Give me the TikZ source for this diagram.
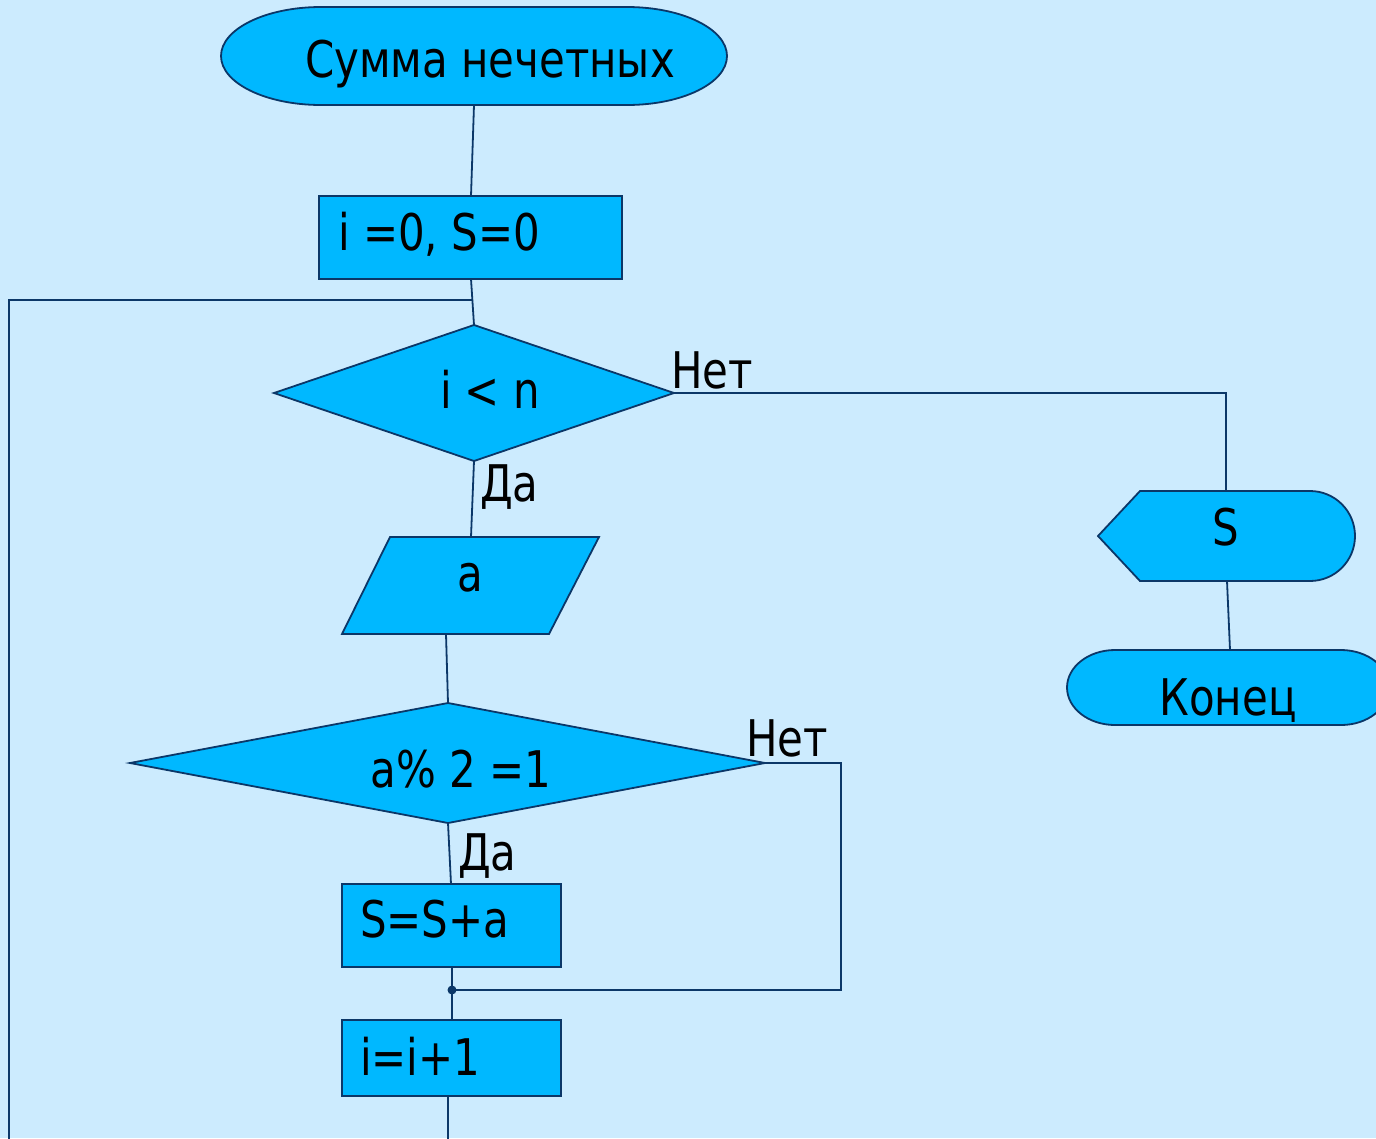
\documentclass[tikz,border=0pt]{standalone}
\usepackage{fontspec}
\setmainfont{DejaVu Sans}[FakeStretch=0.83]
\definecolor{bg}{HTML}{CCEBFE}
\definecolor{fl}{HTML}{00B8FF}
\definecolor{st}{HTML}{0B3768}
\begin{document}
\begin{tikzpicture}[x=1pt,y=1pt,
  shp/.style={fill=fl,draw=st,line width=1.8pt,line join=miter},
  ln/.style={draw=st,line width=1.8pt},
  txt/.style={inner sep=0pt,font=\fontsize{50.5}{60}\selectfont,text=black}]
\clip (0,0) rectangle (1376,-1138);
\fill[bg] (0,0) rectangle (1376,-1138);
% shapes
\draw[shp] (321,-7) -- (627,-7) arc[start angle=90,end angle=-90,x radius=100,y radius=49]
  -- (321,-105) arc[start angle=270,end angle=90,x radius=100,y radius=49] -- cycle;
\draw[shp] (319,-196) rectangle (622,-279);
\draw[shp] (274,-393) -- (474,-325) -- (674,-393) -- (474,-461) -- cycle;
\draw[shp] (390,-537) -- (599,-537) -- (549,-634) -- (342,-634) -- cycle;
\draw[shp] (130,-763) -- (448,-703) -- (765,-763) -- (448,-823) -- cycle;
\draw[shp] (342,-884) rectangle (561,-967);
\draw[shp] (342,-1020) rectangle (561,-1096);
\draw[shp] (1098,-536) -- (1140,-491) -- (1310,-491) arc[start angle=90,end angle=-90,radius=45]
  -- (1140,-581) -- cycle;
\draw[shp] (1115,-650) -- (1341,-650) arc[start angle=90,end angle=-90,x radius=48,y radius=37.5]
  -- (1115,-725) arc[start angle=270,end angle=90,x radius=48,y radius=37.5] -- cycle;
% texts
\node[txt,anchor=base] (start) at (490,-77) {Сумма нечетных};
\node[txt,anchor=base west] (init) at (338,-250) {i =0, S=0};
\node[txt,anchor=base] (cond1) at (490,-408) {i < n};
\node[txt,anchor=base] (inp) at (470,-591) {a};
\node[txt,anchor=base] (cond2) at (461,-787) {a\% 2 =1};
\node[txt,anchor=base west] (add) at (360,-937) {S=S+a};
\node[txt,anchor=base west] (inc) at (360,-1075) {i=i+1};
\node[txt,anchor=base] (out) at (1226,-545) {S};
\node[txt,anchor=base] (fin) at (1228,-715) {Конец};
\node[txt,anchor=base west] (no1) at (671,-388) {Нет};
\node[txt,anchor=base west] (yes1) at (480,-501) {Да};
\node[txt,anchor=base west] (no2) at (746,-756) {Нет};
\node[txt,anchor=base west] (yes2) at (458,-870) {Да};
% connection points
\coordinate (startS) at (474,-105);
\coordinate (initN) at (471,-196);
\coordinate (initS) at (471,-279);
\coordinate (loopJ) at (472.4,-300);
\coordinate (d1N) at (474,-325);
\coordinate (d1E) at (674,-393);
\coordinate (d1S) at (474,-461);
\coordinate (ioN) at (471,-537);
\coordinate (ioS) at (446,-634);
\coordinate (d2N) at (448,-703);
\coordinate (d2E) at (765,-763);
\coordinate (d2S) at (448,-823);
\coordinate (addN) at (451,-884);
\coordinate (addS) at (452,-967);
\coordinate (jdot) at (452,-990);
\coordinate (incN) at (452,-1020);
\coordinate (incS) at (448,-1096);
\coordinate (bot) at (448,-1140);
\coordinate (leftB) at (9,-1140);
\coordinate (outN) at (1226,-491);
\coordinate (outS) at (1227,-581);
\coordinate (finN) at (1230,-650);
% connectors
\draw[ln] (startS) -- (initN);
\draw[ln] (initS) -- (d1N);
\draw[ln] (d1S) -- (ioN);
\draw[ln] (ioS) -- (d2N);
\draw[ln] (d2S) -- (addN);
\draw[ln] (addS) -- (jdot) -- (incN);
\draw[ln] (incS) -- (bot);
\draw[ln] (leftB) |- (loopJ);
\draw[ln] (d2E) -- ++(76,0) |- (jdot);
\draw[ln] (d1E) -| (outN);
\draw[ln] (outS) -- (finN);
\fill[st] (jdot) circle[radius=4.5];
\end{tikzpicture}
\end{document}
